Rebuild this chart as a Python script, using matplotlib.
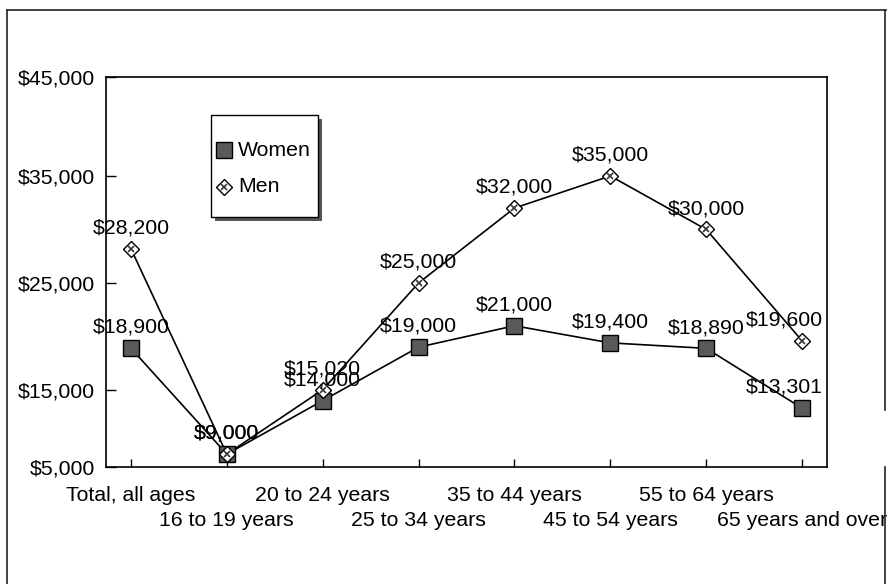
import matplotlib
matplotlib.use("Agg")
import matplotlib.pyplot as plt
from matplotlib.lines import Line2D
from matplotlib.patches import Rectangle

plt.rcParams['font.family'] = ['Liberation Sans', 'DejaVu Sans']

categories = ["Total, all ages", "16 to 19 years", "20 to 24 years", "25 to 34 years",
              "35 to 44 years", "45 to 54 years", "55 to 64 years", "65 years and over"]
women = [18900, 9000, 14000, 19000, 21000, 19400, 18890, 13301]
men = [28200, 9000, 15020, 25000, 32000, 35000, 30000, 19600]
ytick_values = [7800, 15000, 25000, 35000, 44250]
ytick_labels = ["$5,000", "$15,000", "$25,000", "$35,000", "$45,000"]

W, H = 895, 584
fig = plt.figure(figsize=(W / 100, H / 100), dpi=100)

def fx(px):
    return px / W

def fy(py):
    return 1 - py / H

ax_l, ax_r, ax_t, ax_b = 106, 827, 77, 467
ax = fig.add_axes([fx(ax_l), fy(ax_b), fx(ax_r - ax_l), (ax_b - ax_t) / H])

x = list(range(len(categories)))
FS = 15.3

ax.plot(x, women, color='black', lw=1.2, zorder=2)
ax.plot(x, men, color='black', lw=1.2, zorder=2)
ax.plot(x, women, ls='none', marker='s', ms=11, mfc='#5a5a5a', mec='black', mew=1.0, zorder=3)
ax.plot(x, men, ls='none', marker='D', ms=8, mfc='white', mec='black', mew=1.0, zorder=3)
ax.plot(x, men, ls='none', marker='x', ms=5, mec='#333333', mew=1.2, zorder=4)

for i, v in enumerate(women):
    dx = -13 if i == len(women) - 1 else 0
    ax.annotate(f"${v:,}", (i, v), xytext=(dx, 15), textcoords='offset points',
                ha='center', va='center', fontsize=FS, zorder=5)
for i, v in enumerate(men):
    dx = -13 if i == len(men) - 1 else 0
    ax.annotate(f"${v:,}", (i, v), xytext=(dx, 15), textcoords='offset points',
                ha='center', va='center', fontsize=FS, zorder=5)

ax.set_xlim(-0.26, 7.26)
ax.set_ylim(ytick_values[0], ytick_values[-1])
ax.set_yticks(ytick_values)
ax.set_yticklabels(ytick_labels, fontsize=FS)

# alternate category labels on two rows: even on major ticks, odd on minor ticks
ax.set_xticks(x[0::2])
ax.set_xticklabels(categories[0::2], fontsize=FS)
ax.set_xticks(x[1::2], minor=True)
ax.set_xticklabels(categories[1::2], minor=True, fontsize=FS)
ax.tick_params(axis='y', direction='in', length=7, width=1, pad=8)
ax.tick_params(axis='x', which='major', direction='in', length=6, width=1, pad=14)
ax.tick_params(axis='x', which='minor', direction='in', length=6, width=1, pad=32)
for s in ax.spines.values():
    s.set_linewidth(1.2)

# legend (drawn manually)
lx0, ly0, lx1, ly1 = 211, 115, 318, 217
fig.add_artist(Rectangle((fx(lx0 + 4), fy(ly1 + 4)), fx(lx1 - lx0), (ly1 - ly0) / H,
                         facecolor='#555555', edgecolor='none', zorder=5))
fig.add_artist(Rectangle((fx(lx0), fy(ly1)), fx(lx1 - lx0), (ly1 - ly0) / H,
                         facecolor='white', edgecolor='black', lw=1.0, zorder=6))
fig.add_artist(Line2D([fx(224)], [fy(150)], ls='none', marker='s', ms=11,
                      mfc='#5a5a5a', mec='black', mew=1.0, zorder=7))
fig.add_artist(Line2D([fx(224)], [fy(187)], ls='none', marker='D', ms=8,
                      mfc='white', mec='black', mew=1.0, zorder=7))
fig.add_artist(Line2D([fx(224)], [fy(187)], ls='none', marker='x', ms=5,
                      mec='#333333', mew=1.2, zorder=8))
fig.text(fx(238), fy(150), "Women", fontsize=FS, ha='left', va='center', zorder=8)
fig.text(fx(238), fy(187), "Men", fontsize=FS, ha='left', va='center', zorder=8)

# outer border
bc = '#222222'
fig.add_artist(Line2D([fx(7), fx(7)], [fy(10), fy(584)], color=bc, lw=1.2))
fig.add_artist(Line2D([fx(7), fx(886)], [fy(10), fy(10)], color=bc, lw=1.2))
fig.add_artist(Line2D([fx(885), fx(885)], [fy(10), fy(410)], color=bc, lw=1.2))
fig.add_artist(Line2D([fx(885), fx(885)], [fy(467), fy(584)], color=bc, lw=1.2))

fig.savefig("out.png", dpi=100)
